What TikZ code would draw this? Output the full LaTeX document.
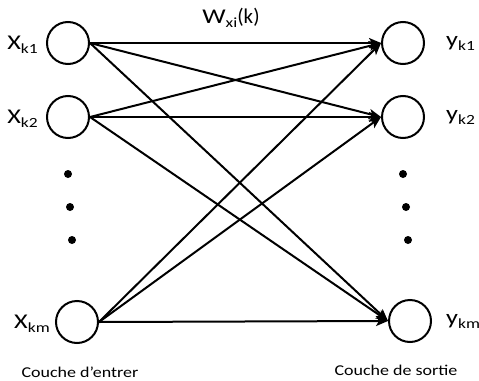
\documentclass[tikz,border=0pt]{standalone}
\usepackage{fontspec}
\setmainfont{Carlito}
\usetikzlibrary{arrows.meta}
\newcommand{\lab}[2]{\scalebox{1.25}[1]{#1\raisebox{-4pt}{\fontsize{14}{14}\selectfont #2}}}
\newcommand{\wide}[1]{\scalebox{1.2}[1]{#1}}
\begin{document}
\begin{tikzpicture}[x=1pt,y=-1pt,
  neuron/.style={circle,draw,line width=2pt,minimum size=42pt,inner sep=0pt},
  conn/.style={line width=2pt,-{Stealth[length=12pt,width=10pt,inset=3pt]}},
  dotm/.style={circle,fill,inner sep=0pt,minimum size=8pt},
  big/.style={font=\fontsize{21}{21}\selectfont},
  small/.style={font=\fontsize{15}{15}\selectfont}]
\useasboundingbox (0,0) rectangle (479,380);
\node[neuron] (i1) at (68,43) {};
\node[neuron] (i2) at (68,117) {};
\node[neuron] (i3) at (77,322) {};
\node[neuron] (o1) at (403,43) {};
\node[neuron] (o2) at (403,117) {};
\node[neuron] (o3) at (410,321) {};
\foreach \i in {1,2,3}{
  \foreach \o in {1,2,3}{
    \draw[conn] (i\i.east) -- (o\o.west);
  }
}
\node[dotm] (dl1) at (68,174) {};
\node[dotm] (dl2) at (70,207) {};
\node[dotm] (dl3) at (72,240) {};
\node[dotm] (dr1) at (403,174) {};
\node[dotm] (dr2) at (406,207) {};
\node[dotm] (dr3) at (408,240) {};
\node[big,anchor=east,inner sep=0pt] (lx1) at (38,45) {\lab{X}{k1}};
\node[big,anchor=east,inner sep=0pt] (lx2) at (38,119) {\lab{X}{k2}};
\node[big,anchor=east,inner sep=0pt] (lx3) at (50,324) {\lab{X}{km}};
\node[big,anchor=west,inner sep=0pt] (ly1) at (446,43) {\lab{y}{k1}};
\node[big,anchor=west,inner sep=0pt] (ly2) at (446,117) {\lab{y}{k2}};
\node[big,anchor=west,inner sep=0pt] (ly3) at (446,321) {\lab{y}{km}};
\node[big,inner sep=0pt] (w) at (231,18) {\lab{W}{xi}(k)};
\node[small,inner sep=0pt] (c1) at (80,372) {\wide{Couche d’entrer}};
\node[small,inner sep=0pt] (c2) at (396,370) {\wide{Couche de sortie}};
\end{tikzpicture}
\end{document}
